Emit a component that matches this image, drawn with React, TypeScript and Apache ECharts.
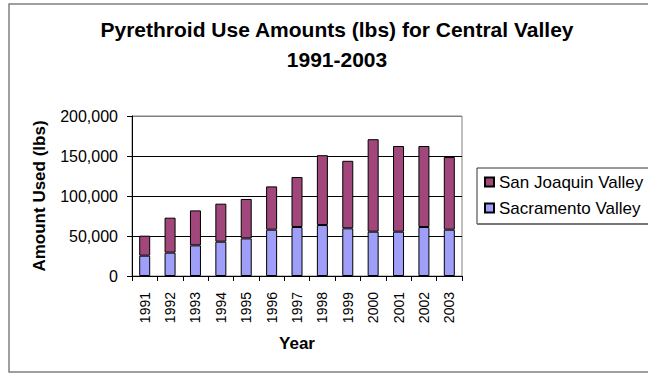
import React, { useEffect, useRef } from "react";
import * as echarts from "echarts";

const years = ["1991", "1992", "1993", "1994", "1995", "1996", "1997", "1998", "1999", "2000", "2001", "2002", "2003"];
const sacramentoValley = [25400, 29200, 38300, 42900, 47000, 57900, 61200, 63700, 59600, 55400, 55400, 61200, 57900];
const sanJoaquinValley = [25000, 43700, 43700, 47500, 49300, 54100, 62500, 87300, 84400, 115600, 107100, 101300, 90800];
const yTicks = [0, 50000, 100000, 150000, 200000];

const FONT = "Liberation Sans, Arial, sans-serif";

function withCommas(v: number): string {
  return String(v).replace(/\B(?=(\d{3})+(?!\d))/g, ",");
}

export default function App() {
  const ref = useRef<HTMLDivElement>(null);

  useEffect(() => {
    if (!ref.current) return;
    const chart = echarts.init(ref.current, null, { renderer: "svg" });
    chart.setOption({
      animation: false,
      backgroundColor: "#ffffff",
      textStyle: { fontFamily: FONT },
      title: {
        text: "Pyrethroid Use Amounts (lbs) for Central Valley\n1991-2003",
        left: 332,
        top: 10,
        textAlign: "center",
        textStyle: {
          fontFamily: FONT,
          fontSize: 21,
          fontWeight: "bold",
          color: "#000",
          lineHeight: 29.5,
        },
      },
      graphic: [
        // chart frame, open on the right
        {
          type: "polyline",
          shape: { points: [[720, 4], [9, 4], [9, 372], [720, 372]] },
          style: { fill: "none", stroke: "#808080", lineWidth: 1.5 },
          silent: true,
        },
        // legend box: thin top/left edge, heavier grey lower edge, running past the right side
        {
          type: "polyline",
          shape: { points: [[720, 168], [477, 168], [477, 224]] },
          style: { fill: "none", stroke: "#333", lineWidth: 1 },
          silent: true,
        },
        {
          type: "line",
          shape: { x1: 477, y1: 224, x2: 720, y2: 224 },
          style: { stroke: "#777", lineWidth: 2 },
          silent: true,
        },
      ],
      legend: {
        orient: "vertical",
        left: 484,
        top: 173.5,
        padding: 0,
        itemGap: 9,
        itemWidth: 9,
        itemHeight: 9,
        icon: "rect",
        data: ["San Joaquin Valley", "Sacramento Valley"],
        textStyle: { fontFamily: FONT, fontSize: 17, color: "#000", lineHeight: 17 },
      },
      grid: {
        left: 132,
        right: 186,
        top: 116,
        bottom: 99,
        show: true,
        borderColor: "#808080",
        borderWidth: 1,
      },
      xAxis: {
        type: "category",
        data: years,
        name: "Year",
        nameLocation: "middle",
        nameGap: 59,
        nameTextStyle: { fontFamily: FONT, fontSize: 17, fontWeight: "bold", color: "#000" },
        axisLine: { lineStyle: { color: "#000", width: 1 } },
        axisTick: { show: true, length: 5, lineStyle: { color: "#000" } },
        axisLabel: { rotate: 90, margin: 16, fontFamily: FONT, fontSize: 14, color: "#000" },
      },
      yAxis: {
        type: "value",
        min: 0,
        max: 200000,
        interval: 50000,
        name: "Amount Used (lbs)",
        nameLocation: "middle",
        nameGap: 84,
        nameTextStyle: { fontFamily: FONT, fontSize: 17, fontWeight: "bold", color: "#000" },
        axisLine: { show: true, lineStyle: { color: "#000", width: 1 } },
        axisTick: { show: true, length: 5, lineStyle: { color: "#000" } },
        axisLabel: {
          margin: 14,
          fontFamily: FONT,
          fontSize: 16,
          color: "#000",
          formatter: (v: number) => (yTicks.includes(v) ? withCommas(v) : ""),
        },
        splitLine: {
          show: true,
          lineStyle: { color: ["#000", "#000", "#000", "#000", "#808080"], width: 1 },
        },
      },
      series: [
        {
          name: "Sacramento Valley",
          type: "bar",
          stack: "total",
          barWidth: 11,
          data: sacramentoValley,
          itemStyle: { color: "#9f9ffa", borderColor: "#000", borderWidth: 1 },
        },
        {
          name: "San Joaquin Valley",
          type: "bar",
          stack: "total",
          barWidth: 11,
          data: sanJoaquinValley,
          itemStyle: { color: "#a2477b", borderColor: "#000", borderWidth: 1 },
        },
      ],
    });
    return () => chart.dispose();
  }, []);

  return (
    <div style={{ position: "fixed", left: 0, top: 0, width: 648, height: 375, overflow: "hidden" }}>
      <div ref={ref} style={{ width: 648, height: 375 }} />
    </div>
  );
}
